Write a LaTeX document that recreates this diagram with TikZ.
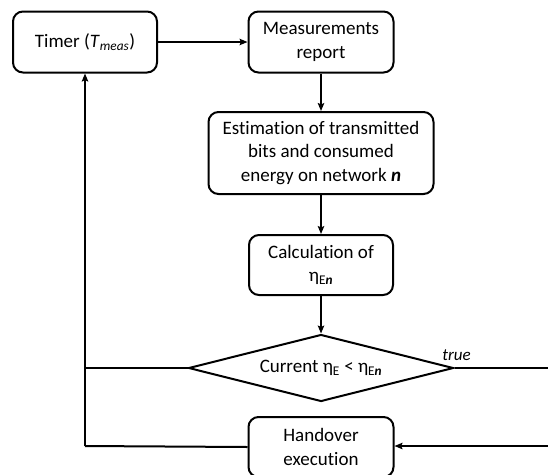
\documentclass[tikz,border=0pt]{standalone}
\usepackage{fontspec}
\setmainfont[Ligatures={NoCommon}]{Carlito}
\usetikzlibrary{shapes.geometric,arrows.meta}

\tikzset{
  flowbox/.style={draw=black, line width=2pt, rounded corners=10pt, fill=white,
    align=center, inner sep=0pt, font=\fontsize{19}{23.5}\selectfont},
  decision/.style={draw=black, line width=2pt, diamond, fill=white, aspect=4,
    inner sep=0pt, minimum width=265pt, minimum height=67pt,
    font=\fontsize{19}{23.5}\selectfont},
  link/.style={line width=2pt, draw=black},
  arrowlink/.style={link, -{Stealth[length=8pt,width=6.5pt,inset=1.5pt]}},
  truelbl/.style={font=\fontsize{17}{18}\selectfont\itshape, inner sep=1pt}
}

\begin{document}
\begin{tikzpicture}[x=1pt, y=-1pt]
  \useasboundingbox[fill=white] (0,0) rectangle (548,474);

  % process steps
  \node[flowbox, minimum width=144pt, minimum height=61pt] (timer) at (85,42)
    {Timer (\textit{T}\textsubscript{\textit{meas}})};
  \node[flowbox, minimum width=145pt, minimum height=61pt] (meas) at (321,42)
    {Measurements\\report};
  \node[flowbox, minimum width=225pt, minimum height=82pt] (est) at (321,153)
    {Estimation of transmitted\\bits and consumed\\energy on network \textbf{\textit{n}}};
  \node[flowbox, minimum width=144pt, minimum height=60pt] (calc) at (321,265)
    {Calculation of\\η\textsubscript{E\textbf{\textit{n}}}};
  \node[decision] (cond) at (321,368)
    {Current η\textsubscript{E} < η\textsubscript{E\textbf{\textit{n}}}};
  \node[flowbox, minimum width=145pt, minimum height=60pt] (hand) at (321,447)
    {Handover\\execution};

  % loop and branch corners
  \coordinate (lmid) at (85,368);
  \coordinate (lbot) at (85,446);
  \coordinate (rtop) at (556,368);
  \coordinate (rbot) at (556,446);

  % main flow
  \draw[arrowlink] (timer.east) -- (meas.west);
  \draw[arrowlink] (meas.south) -- (est.north);
  \draw[arrowlink] (est.south) -- (calc.north);
  \draw[arrowlink] (calc.south) -- (cond.north);

  % false branch and return to the timer
  \draw[link] (cond.west) -- (lmid);
  \draw[link] (hand.west) -- (lbot);
  \draw[arrowlink] (lbot) -- (timer.south);

  % true branch to the handover
  \draw[link] (cond.east) -- node[truelbl, pos=0, above=5pt, xshift=2pt] {true} (rtop);
  \draw[arrowlink] (rtop) -- (rbot) -- (hand.east |- rbot);
\end{tikzpicture}
\end{document}
